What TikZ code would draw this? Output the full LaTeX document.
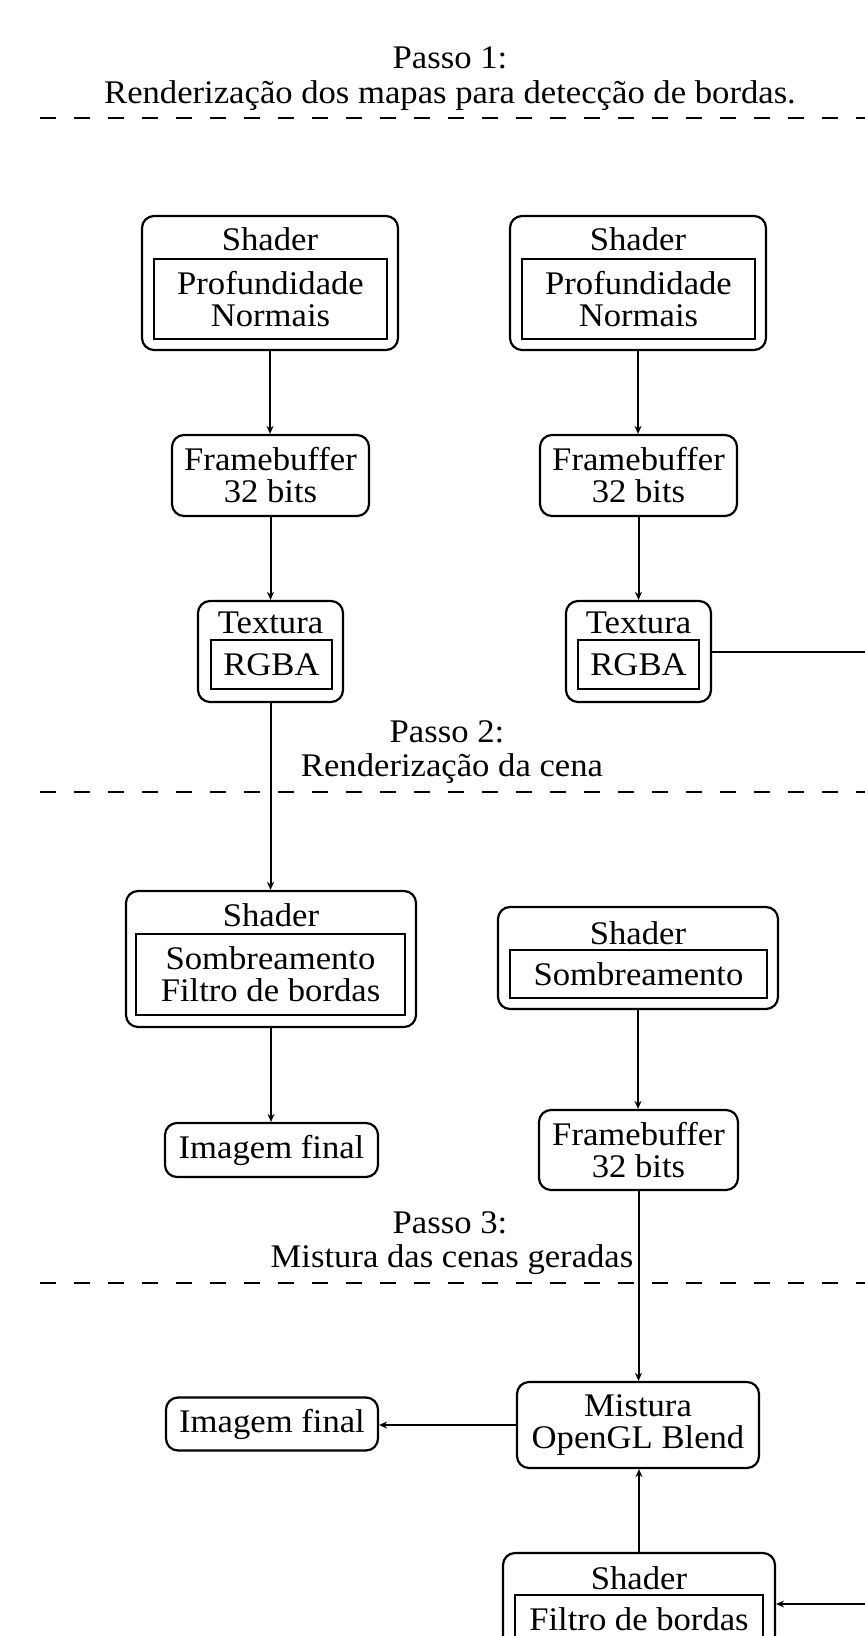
\documentclass[tikz,border=0pt]{standalone}
\usepackage{fontspec}
\setmainfont{Liberation Serif}[FakeStretch=1.05]
\usetikzlibrary{arrows.meta}
\tikzset{
  sz/.style 2 args={minimum width=#1*0.5pt, minimum height=#2*0.5pt, inner sep=0pt},
  rbox/.style={draw, line width=1.1pt, rounded corners=6pt, align=center},
  ibox/.style={draw, line width=1.1pt, align=center},
  lbl/.style={align=center, inner sep=0pt},
  conn/.style={line width=1pt, -{Stealth[length=4pt,width=3.5pt]}},
  sepline/.style={line width=1pt, dash pattern=on 8pt off 9pt},
}
\begin{document}
\begin{tikzpicture}[x=0.5pt,y=-0.5pt,font=\fontsize{16.5}{16}\selectfont]
\useasboundingbox (0,0) rectangle (865,1636);
\clip (0,0) rectangle (865,1636);

% ---- Passo 1 ----
\node[lbl] (p1a) at (450,58) {Passo 1:};
\node[lbl, anchor=base] (p1b) at (450,104) {Renderização dos mapas para detecção de bordas.};
\draw[sepline] (40,118) -- (865,118);

\node[rbox, sz={256}{134}] (sh1) at (270,283) {};
\node[lbl] (sh1t) at (270,239) {Shader};
\node[ibox, sz={233}{80}] (sh1i) at (270.5,299) {Profundidade\\Normais};

\node[rbox, sz={256}{134}] (sh2) at (638,283) {};
\node[lbl] (sh2t) at (638,239) {Shader};
\node[ibox, sz={233}{80}] (sh2i) at (638.5,299) {Profundidade\\Normais};

\node[rbox, sz={197}{81}] (fb1) at (270.5,475.5) {Framebuffer\\32 bits};
\node[rbox, sz={197}{81}] (fb2) at (638.5,475.5) {Framebuffer\\32 bits};

\node[rbox, sz={145}{101}] (tx1) at (270.5,651.5) {};
\node[lbl] (tx1t) at (270.5,623) {Textura};
\node[ibox, sz={121}{49}] (tx1i) at (271.5,664.5) {RGBA};

\node[rbox, sz={145}{101}] (tx2) at (638.5,651.5) {};
\node[lbl] (tx2t) at (638.5,623) {Textura};
\node[ibox, sz={121}{49}] (tx2i) at (638.5,664.5) {RGBA};

% ---- Passo 2 ----
\node[lbl] (p2a) at (447,732) {Passo 2:};
\node[lbl, anchor=base] (p2b) at (452,776) {Renderização da cena};
\draw[sepline] (40,792) -- (865,792);

\node[rbox, sz={290}{136}] (sh3) at (271,959) {};
\node[lbl] (sh3t) at (271,915) {Shader};
\node[ibox, sz={269}{81}] (sh3i) at (270.5,974.5) {Sombreamento\\Filtro de bordas};

\node[rbox, sz={280}{102}] (sh4) at (638,958) {};
\node[lbl] (sh4t) at (638,933) {Shader};
\node[ibox, sz={257}{48}] (sh4i) at (638.5,974) {Sombreamento};

\node[rbox, sz={213}{54}] (img1) at (271.5,1150) {Imagem final};
\node[rbox, sz={199}{80}] (fb3) at (638.5,1150) {Framebuffer\\32 bits};

% ---- Passo 3 ----
\node[lbl] (p3a) at (450,1223) {Passo 3:};
\node[lbl, anchor=base] (p3b) at (452,1267) {Mistura das cenas geradas};
\draw[sepline] (40,1283) -- (865,1283);

\node[rbox, sz={242}{86}] (mix) at (638,1425) {Mistura\\OpenGL Blend};
\node[rbox, sz={212}{53}] (img2) at (272,1424) {Imagem final};

\node[rbox, sz={272}{102}] (sh5) at (639,1604) {};
\node[lbl] (sh5t) at (639,1578) {Shader};
\node[ibox, sz={248}{48}] (sh5i) at (639,1619) {Filtro de bordas};

\coordinate (rt) at (900,0);

% ---- connectors ----
\draw[conn] (sh1.south) -- (sh1.south |- fb1.north);
\draw[conn] (fb1.south) -- (fb1.south |- tx1.north);
\draw[conn] (tx1.south) -- (tx1.south |- sh3.north);
\draw[conn] (sh3.south) -- (sh3.south |- img1.north);

\draw[conn] (sh2.south) -- (sh2.south |- fb2.north);
\draw[conn] (fb2.south) -- (fb2.south |- tx2.north);

\draw[conn] (sh4.south) -- (sh4.south |- fb3.north);
\draw[conn] (fb3.south) -- (fb3.south |- mix.north);
\draw[conn] (sh5.north) -- (sh5.north |- mix.south);
\draw[conn] (mix.west) -- (mix.west -| img2.east);
\draw[conn] (tx2.east) -- (tx2.east -| rt) |- (sh5.east);
\end{tikzpicture}
\end{document}
